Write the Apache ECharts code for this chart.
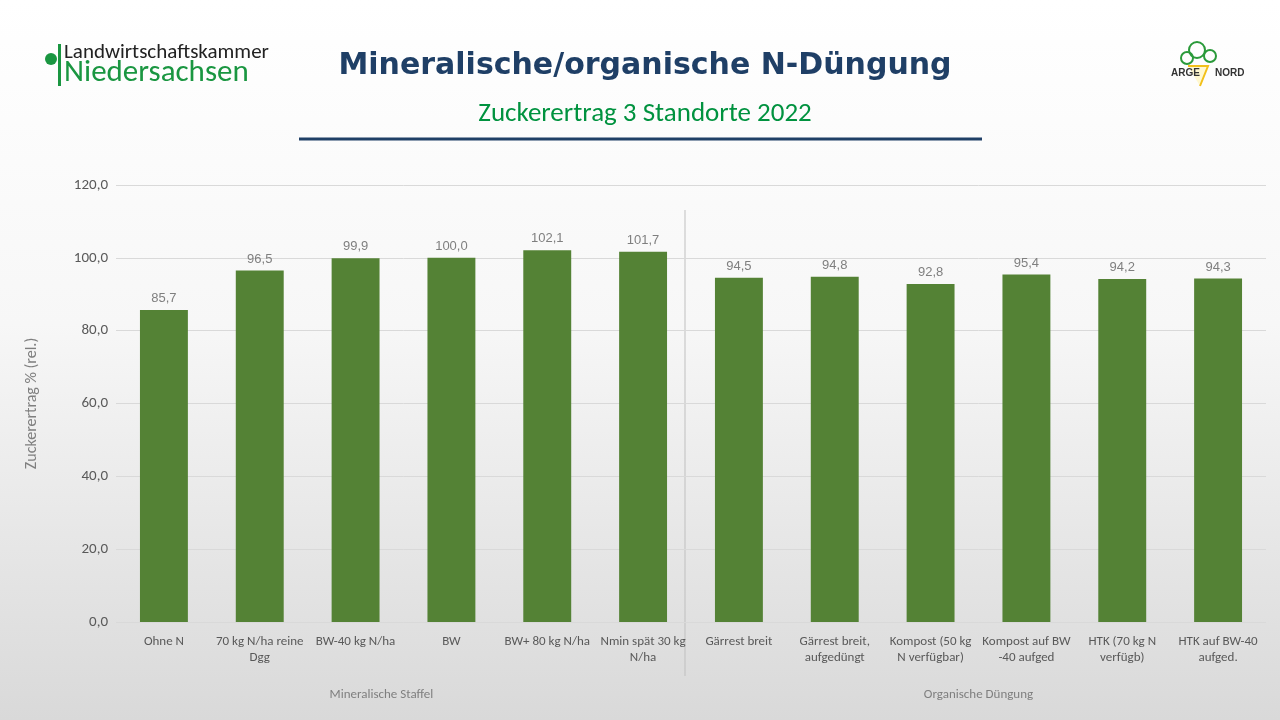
<!DOCTYPE html>
<html><head><meta charset="utf-8">
<script src="https://cdn.jsdelivr.net/npm/echarts@6/dist/echarts.min.js"></script>
<style>html,body{margin:0;padding:0}#main{width:1280px;height:720px}</style>
</head><body><div id="main"></div>
<script>
const categories = ['Ohne N', '70 kg N/ha reine\nDgg', 'BW-40 kg N/ha', 'BW', 'BW+ 80 kg N/ha', 'Nmin spät 30 kg\nN/ha',
  'Gärrest breit', 'Gärrest breit,\naufgedüngt', 'Kompost (50 kg\nN verfügbar)', 'Kompost auf BW\n-40 aufged', 'HTK (70 kg N\nverfügb)', 'HTK auf BW-40\naufged.'];
const values = [85.7, 96.5, 99.9, 100.0, 102.1, 101.7, 94.5, 94.8, 92.8, 95.4, 94.2, 94.3];
const groups = ['Mineralische Staffel', 'Organische Düngung'];

const chart = echarts.init(document.getElementById('main'));
const font = 'Calibri, Carlito, "Open Sans", sans-serif';
chart.setOption({
  backgroundColor: new echarts.graphic.LinearGradient(0, 0, 0, 1, [
    { offset: 0, color: '#ffffff' }, { offset: 0.45, color: '#f7f7f7' }, { offset: 1, color: '#d9d9d9' }]),
  textStyle: { fontFamily: font },
  title: [
    { text: 'Mineralische/organische N-Düngung', left: 640, top: 46, textAlign: 'center',
      textStyle: { fontSize: 30, fontWeight: 'bold', color: '#1f3f66', fontFamily: '"DejaVu Sans", sans-serif' } },
    { text: 'Zuckerertrag 3 Standorte 2022', left: 640, top: 96, textAlign: 'center',
      textStyle: { fontSize: 27, fontWeight: 'normal', color: '#00923f', fontFamily: font } }
  ],
  grid: { left: 116, right: 14, top: 185, bottom: 98 },
  xAxis: [
    { type: 'category', data: categories,
      axisLine: { show: false }, axisTick: { show: false },
      axisLabel: { color: '#595959', fontSize: 13, interval: 0, lineHeight: 16, margin: 12 } },
    { type: 'category', data: groups, position: 'bottom', offset: 58,
      axisLine: { show: false }, axisTick: { show: false },
      axisLabel: { color: '#7f7f7f', fontSize: 13, formatter: (v, i) => i === 0 ? v + '               ' : v } }
  ],
  yAxis: { type: 'value', min: 0, max: 120, interval: 20,
    name: 'Zuckerertrag % (rel.)', nameLocation: 'middle', nameGap: 76,
    nameTextStyle: { color: '#7f7f7f', fontSize: 16 },
    axisLabel: { color: '#595959', fontSize: 15, formatter: v => v.toFixed(1).replace('.', ',') },
    splitLine: { lineStyle: { color: '#d9d9d9' } } },
  series: [{ type: 'bar', data: values, barWidth: '50%', itemStyle: { color: '#548235' },
    label: { show: true, position: 'top', color: '#7f7f7f', fontSize: 13, fontFamily: '"Liberation Sans Narrow", "Liberation Sans", sans-serif',
      formatter: p => p.value.toFixed(1).replace('.', ',') } }],
  graphic: [
    { type: 'line', shape: { x1: 299, y1: 139, x2: 982, y2: 139 }, style: { stroke: '#1f3f66', lineWidth: 3 } },
    { type: 'line', shape: { x1: 685, y1: 210, x2: 685, y2: 676 }, style: { stroke: '#bfbfbf', lineWidth: 1 } },
    { type: 'circle', shape: { cx: 51, cy: 59, r: 6 }, style: { fill: '#1a9641' } },
    { type: 'rect', shape: { x: 58, y: 44, width: 3, height: 42 }, style: { fill: '#1a9641' } },
    { type: 'text', left: 64, top: 42, style: { text: 'Landwirtschaftskammer', fontSize: 21, fill: '#222', fontFamily: font } },
    { type: 'text', left: 64, top: 58, style: { text: 'Niedersachsen', fontSize: 31, fill: '#1a9641', fontFamily: font } },
    { type: 'polyline', shape: { points: [[1188, 66], [1208, 66], [1200, 86]] }, style: { stroke: '#f2c01a', fill: '#fff8d0', lineWidth: 2 } },
    { type: 'circle', shape: { cx: 1197, cy: 50, r: 8 }, style: { stroke: '#2a9a3a', fill: 'none', lineWidth: 2 } },
    { type: 'circle', shape: { cx: 1210, cy: 56, r: 6 }, style: { stroke: '#2a9a3a', fill: 'none', lineWidth: 2 } },
    { type: 'circle', shape: { cx: 1187, cy: 58, r: 6 }, style: { stroke: '#2a9a3a', fill: 'none', lineWidth: 2 } },
    { type: 'text', left: 1171, top: 68, style: { text: 'ARGE', fontSize: 10, fontWeight: 'bold', fill: '#333' } },
    { type: 'text', left: 1215, top: 68, style: { text: 'NORD', fontSize: 10, fontWeight: 'bold', fill: '#333' } }
  ]
});
</script></body></html>
